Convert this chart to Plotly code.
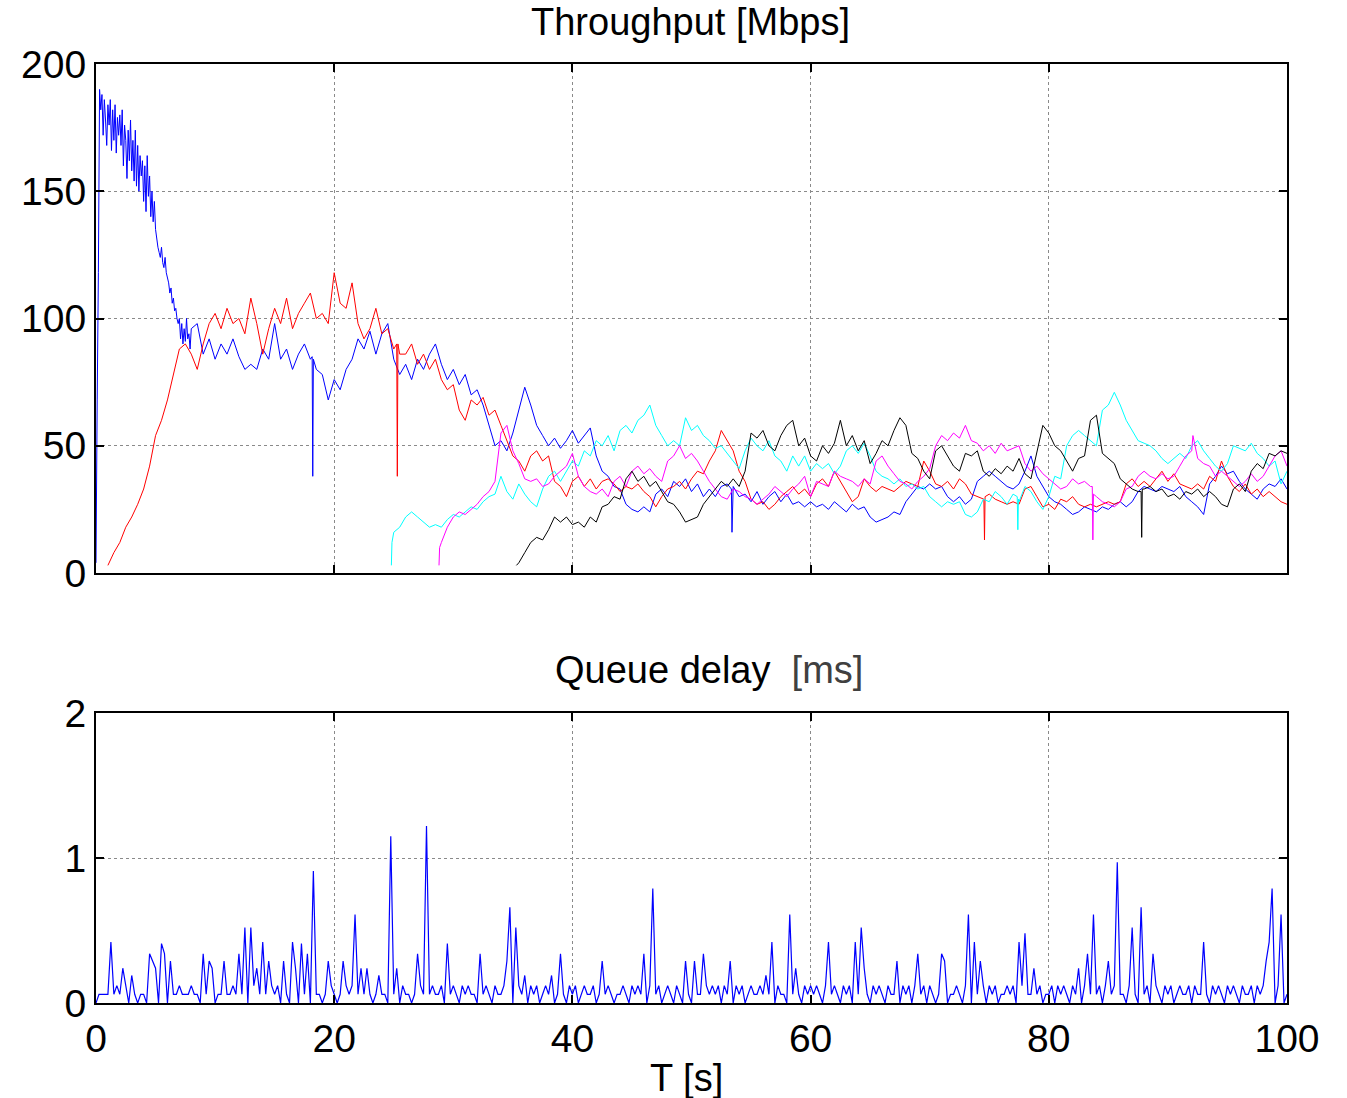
import numpy as np
import plotly.graph_objects as go

# ---------------- data ----------------
STEP = 0.5

# blue, fine sampling during the initial ramp-down (t = 0.3 .. 8.0, step 0.1)
blue_fine_t0 = 0.3
blue_fine_step = 0.1
blue_fine_vals = [
    190, 182, 188, 172, 186, 178, 168, 184,
    176, 186, 166, 182, 170, 184, 165, 179, 172, 180,
    168, 182, 160, 176, 170, 155, 174, 162, 178, 158,
    170, 154, 174, 152, 168, 150, 164, 156, 162, 146,
    160, 142, 164, 148, 156, 140, 150, 138, 146, 135,
    130, 128, 126, 124, 128, 122, 120, 124, 118, 116,
    114, 110, 112, 106, 108, 103, 104, 100, 98, 100,
    92, 98, 90, 96, 91, 100, 92, 94, 88, 96,
]
# blue, t = 8.5 .. 100
blue_t0 = 8.5
blue_vals = [
    98, 86, 92, 84,
    90, 86, 92, 85, 80, 82, 80, 88, 84, 98,
    84, 88, 80, 86, 90, 84, 80, 78, 68, 76,
    72, 80, 84, 92, 88, 95, 86, 94, 98, 84,
    78, 82, 76, 84, 80, 86, 90, 82, 76, 80,
    74, 78, 70, 72, 66, 58, 50, 52, 48, 55,
    64, 73, 66, 58, 54, 50, 53, 49, 52, 56,
    51, 54, 57, 46, 40, 38, 34, 33, 27, 25,
    24, 26, 24, 31, 33, 30, 36, 34, 37, 32,
    35, 30, 33, 30, 34, 35, 34, 30, 31, 28,
    32, 27, 30, 32, 28, 31, 27, 28, 26, 28,
    26, 27, 25, 28, 26, 24, 27, 25, 26, 22,
    20, 21, 22, 24, 23, 28, 31, 34, 33, 35,
    33, 34, 30, 28, 30, 27, 29, 36, 38, 40,
    38, 36, 34, 33, 35, 40, 46, 38, 34, 30,
    28, 27, 25, 23, 24, 26, 25, 24, 26, 25,
    27, 28, 26, 28, 32, 34, 33, 32, 34, 33,
    32, 34, 30, 28, 26, 23, 35, 38, 42, 39,
    40, 36, 33, 31, 29, 33, 35, 34, 37, 33,
]
blue_extra_t = [0.0, 0.05, 0.1, 0.2, 18.15, 18.2, 18.25, 53.35, 53.4, 53.45]
blue_extra_v = [4, 50, 68, 118, 85, 38, 84, 33, 16, 32]

red_t0 = 1.0
red_vals = [
    3, 8, 12, 18, 22, 27, 33, 42, 54,
    60, 68, 78, 88, 90, 86, 80, 90, 98, 102,
    96, 104, 98, 100, 94, 108, 98, 86, 96, 104,
    98, 108, 96, 102, 106, 110, 100, 102, 98, 118,
    106, 104, 114, 98, 92, 96, 104, 94, 96, 88,
    86, 86, 90, 82, 86, 80, 84, 76, 72, 74,
    64, 60, 68, 66, 69, 62, 64, 58, 52, 46,
    44, 40, 46, 48, 44, 46, 36, 34, 30, 36,
    38, 34, 37, 33, 36, 37, 35, 32, 34, 33,
    35, 32, 30, 26, 30, 33, 34, 36, 33, 37,
    40, 39, 44, 48, 56, 52, 48, 40, 36, 29,
    27, 28, 25, 27, 30, 32, 34, 31, 33, 30,
    35, 37, 34, 40, 36, 32, 28, 30, 37, 34,
    32, 34, 33, 32, 34, 36, 35, 34, 44, 40,
    35, 34, 36, 33, 37, 35, 31, 30, 29, 31,
    29, 28, 27, 28, 27, 33, 34, 30, 26, 27,
    25, 29, 28, 30, 27, 26, 27, 26, 27, 28,
    27, 28, 35, 37, 34, 36, 34, 37, 40, 36,
    39, 35, 34, 33, 35, 33, 38, 36, 44, 38,
    34, 32, 35, 31, 33, 30, 32, 30, 28, 27,
]
red_extra_t = [25.25, 25.3, 25.35, 74.55, 74.6, 74.65]
red_extra_v = [90, 38, 90, 29, 13, 30]

cyan_t0 = 25.0
cyan_vals = [
    16,
    18, 22, 24, 22, 20, 18, 19, 18, 21, 23,
    22, 24, 26, 25, 28, 30, 31, 38, 32, 29,
    35, 31, 28, 26, 33, 38, 40, 36, 40, 44,
    42, 48, 46, 52, 50, 54, 48, 56, 58, 55,
    60, 62, 66, 58, 54, 50, 52, 50, 61, 56,
    58, 54, 52, 49, 50, 47, 44, 41, 48, 53,
    50, 48, 52, 46, 44, 40, 46, 42, 46, 40,
    43, 41, 43, 39, 42, 48, 50, 47, 51, 46,
    40, 38, 37, 35, 37, 34, 35, 33, 34, 30,
    28, 26, 28, 27, 28, 23, 22, 24, 29, 28,
    32, 30, 27, 31, 28, 34, 32, 28, 25, 30,
    38, 37, 50, 54, 56, 54, 52, 50, 64, 66,
    71, 66, 60, 56, 52, 51, 50, 48, 45, 43,
    45, 47, 45, 50, 52, 48, 45, 42, 40, 43,
    50, 49, 48, 51, 47, 45, 42, 44, 35, 40,
]
cyan_extra_t = [24.8, 24.85, 77.35, 77.4, 77.45]
cyan_extra_v = [3, 12, 30, 17, 29]

magenta_t0 = 29.0
magenta_vals = [
    12, 18, 22,
    24, 23, 25, 27, 30, 32, 36, 55, 58, 48,
    43, 37, 36, 37, 34, 35, 38, 40, 42, 47,
    38, 34, 32, 31, 33, 30, 36, 38, 34, 40,
    42, 39, 41, 38, 36, 44, 46, 50, 45, 47,
    44, 40, 36, 33, 30, 29, 33, 32, 30, 29,
    27, 29, 31, 34, 32, 30, 33, 35, 38, 30,
    36, 35, 34, 40, 38, 37, 36, 34, 37, 35,
    44, 46, 42, 39, 36, 35, 33, 36, 38, 41,
    50, 54, 52, 55, 53, 58, 52, 51, 48, 50,
    47, 51, 48, 49, 50, 43, 40, 42, 39, 37,
    35, 33, 34, 37, 35, 36, 34, 30, 28, 27,
    26, 28, 33, 34, 38, 40, 38, 37, 39, 37,
    38, 42, 46, 48, 45, 43, 42, 38, 40, 38,
    36, 34, 36, 39, 36, 38, 42, 46, 48, 42,
]
magenta_extra_t = [28.8, 28.85, 83.65, 83.7, 83.75, 92.1]
magenta_extra_v = [3, 10, 34, 13, 31, 54]

black_t0 = 35.5
black_vals = [
    4, 8, 12, 14, 13, 17, 22, 20, 22, 19,
    20, 18, 22, 20, 26, 27, 30, 29, 37, 40,
    36, 38, 34, 36, 32, 28, 27, 24, 20, 21,
    22, 27, 30, 33, 36, 34, 37, 34, 40, 55,
    53, 56, 50, 48, 54, 58, 60, 50, 53, 46,
    44, 50, 47, 51, 60, 50, 54, 48, 52, 43,
    47, 52, 50, 56, 61, 58, 47, 45, 40, 37,
    48, 50, 46, 42, 40, 47, 46, 48, 40, 38,
    41, 39, 42, 40, 45, 39, 37, 48, 58, 55,
    50, 48, 44, 40, 45, 46, 60, 62, 47, 45,
    43, 37, 35, 33, 32, 33, 34, 32, 33, 30,
    31, 29, 32, 31, 33, 30, 32, 30, 27, 26,
    33, 35, 32, 40, 43, 41, 47, 46, 48, 47,
]
black_extra_t = [35.3, 87.75, 87.8, 87.85]
black_extra_v = [3, 32, 14, 33]

queue_t0 = 0.0
queue_step = 0.25
queue_vals = [
    0, .06, .06, .06, .06, .42, .06, .12, .06, .24, .12, 0, .19, .06, 0, .06, .06, 0, .34, .29,
    .24, 0, .41, .34, 0, .29, .06, .06, .12, .06, .06, .06, .12, .06, .06, 0, .34, .06, .29, .24,
    0, .06, .06, .29, .06, .06, .12, .06, .34, .06, .52, 0, .52, .12, .24, .06, .42, .06, .29, .12,
    .06, .12, 0, .29, .06, 0, .42, .24, 0, .41, .06, .34, 0, .91, .06, .06, 0, .06, .29, .12,
    .06, 0, .06, .29, .12, .06, .12, .61, .06, .24, .06, .24, .06, 0, .06, .19, .06, .06, 0, 1.15,
    .06, .24, 0, .12, .06, .06, 0, .06, .34, .12, .06, 1.22, .06, .12, .06, .06, .12, 0, .41, .06,
    .12, .06, 0, .12, .06, .12, .06, .06, 0, .34, .06, .12, .06, 0, .12, .06, .06, .12, .29, .66,
    0, .52, .12, .06, .19, 0, .12, .06, .12, 0, .06, .12, .06, .19, 0, .06, .34, .06, 0, .12,
    .06, .12, 0, .06, .12, .06, .06, .12, 0, .06, .29, .06, .12, .06, 0, .06, .06, .12, .06, 0,
    .12, .06, .12, .06, .34, 0, .12, .79, .06, .12, 0, .06, .12, .06, 0, .12, .06, 0, .29, .06,
    0, .29, .06, .06, .34, .12, .06, .12, .06, .12, 0, .12, .06, .29, 0, .12, .06, .12, 0, .06,
    .12, .06, .06, .12, .06, .19, .06, .42, 0, .12, .06, .06, 0, .61, .06, .24, .06, 0, .12, .06,
    .12, .06, .12, .06, 0, .12, .42, .06, .12, .06, 0, .12, .06, .12, 0, .42, .06, .52, .24, .06,
    0, .12, .06, .12, .06, 0, .12, .06, .06, .29, 0, .12, .06, .12, 0, .12, .34, .06, .12, 0,
    .12, .06, 0, .06, .34, .29, 0, .06, .06, .12, .06, 0, .12, .61, 0, .42, .06, .29, .12, 0,
    .12, .06, .12, 0, .06, .06, .12, .06, .12, 0, .42, .12, .48, .06, .06, .24, .06, .12, 0, .06,
    .06, .12, 0, .12, .06, .12, .06, 0, .12, .06, .24, 0, .12, .34, .06, .61, .06, .12, 0, .12,
    .29, .06, .12, .97, .06, .06, 0, .12, .52, .06, 0, .66, .06, .12, 0, .34, .12, .06, 0, .12,
    .06, .12, 0, .06, .12, .06, .06, .12, 0, .12, .06, .06, .42, .06, 0, .12, .06, .12, .06, 0,
    .12, .06, .12, .06, 0, .12, .06, .06, .12, 0, .12, .06, .12, .29, .42, .79, 0, .12, .61, 0,
    .06,
]

x_ticks = [0, 20, 40, 60, 80, 100]
thr_ticks = [0, 50, 100, 150, 200]
q_ticks = [0, 1, 2]


def build(parts):
    ts, vs = [], []
    for t0, step, vals in parts:
        ts += list(t0 + step * np.arange(len(vals)))
        vs += list(vals)
    pts = sorted(zip(ts, vs))
    return [p[0] for p in pts], [p[1] for p in pts]


def extras(et, ev):
    # individual samples at explicit times
    return [(t, 0.0, [v]) for t, v in zip(et, ev)]


# ---------------- figure ----------------
W, H = 1347, 1098
FONT = "Liberation Sans, Arial, sans-serif"


def px(x):
    return x / W


def py(y):
    return 1 - y / H


fig = go.Figure()

series = [
    ([(blue_fine_t0, blue_fine_step, blue_fine_vals), (blue_t0, STEP, blue_vals)]
     + extras(blue_extra_t, blue_extra_v), "#0000ff"),
    ([(red_t0, STEP, red_vals)] + extras(red_extra_t, red_extra_v), "#ff0000"),
    ([(cyan_t0, STEP, cyan_vals)] + extras(cyan_extra_t, cyan_extra_v), "#00ffff"),
    ([(magenta_t0, STEP, magenta_vals)] + extras(magenta_extra_t, magenta_extra_v), "#ff00ff"),
    ([(black_t0, STEP, black_vals)] + extras(black_extra_t, black_extra_v), "#000000"),
]
for parts, col in series:
    xs, ys = build(parts)
    fig.add_trace(go.Scatter(x=xs, y=ys, mode="lines", line=dict(color=col, width=1),
                             xaxis="x", yaxis="y", hoverinfo="skip"))

qx, qy = build([(queue_t0, queue_step, queue_vals)])
fig.add_trace(go.Scatter(x=qx, y=qy, mode="lines", line=dict(color="#0000ff", width=1.2),
                         xaxis="x2", yaxis="y2", hoverinfo="skip"))

axis_common = dict(
    showline=True, linecolor="black", linewidth=2, mirror="ticks",
    ticks="inside", ticklen=8, tickwidth=1.5, tickcolor="black",
    showgrid=True, gridcolor="#8a8a8a", griddash="dot", gridwidth=1,
    zeroline=False, tickfont=dict(family=FONT, size=39, color="black"),
    fixedrange=True, automargin=False,
)
xdom = [px(96), px(1287)]

fig.update_layout(
    width=W, height=H,
    margin=dict(l=0, r=0, t=0, b=0, autoexpand=False),
    paper_bgcolor="white", plot_bgcolor="white",
    showlegend=False,
    xaxis=dict(axis_common, domain=xdom, anchor="y", range=[0, 100],
               tickvals=x_ticks, showticklabels=False),
    yaxis=dict(axis_common, domain=[py(573), py(64)], anchor="x", range=[0, 200],
               tickvals=thr_ticks),
    xaxis2=dict(axis_common, domain=xdom, anchor="y2", range=[0, 100],
                tickvals=x_ticks),
    yaxis2=dict(axis_common, domain=[py(1003), py(713)], anchor="x2", range=[0, 2],
                tickvals=q_ticks),
    annotations=[
        dict(text="Throughput [Mbps]", x=px(690), y=py(22), xref="paper", yref="paper",
             showarrow=False, xanchor="center", yanchor="middle",
             font=dict(family=FONT, size=38, color="black")),
        dict(text="Queue delay  <span style='color:#404040'>[ms]</span>", x=px(709), y=py(670),
             xref="paper", yref="paper", showarrow=False, xanchor="center", yanchor="middle",
             font=dict(family=FONT, size=38, color="black")),
        dict(text="T [s]", x=px(686), y=py(1078), xref="paper", yref="paper",
             showarrow=False, xanchor="center", yanchor="middle",
             font=dict(family=FONT, size=38, color="black")),
    ],
)

fig.write_html("out.html")
